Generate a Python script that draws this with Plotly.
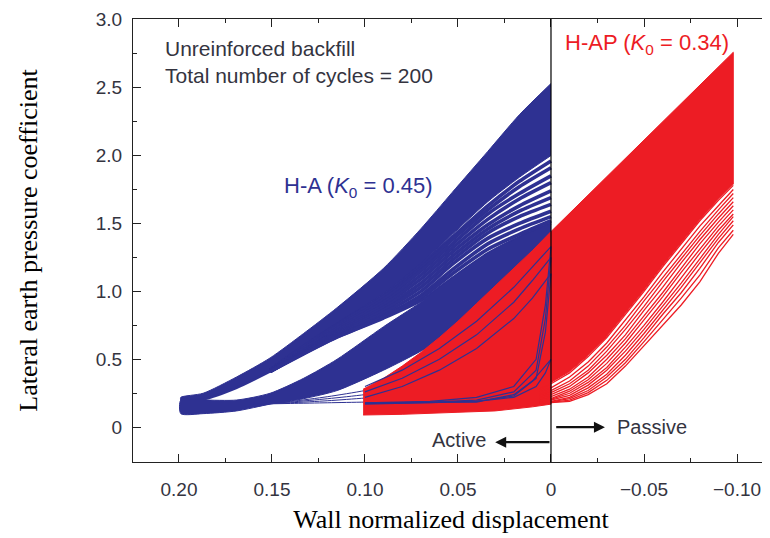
import plotly.graph_objects as go

BLUE = "#2e3192"
RED = "#ed1c24"
TXT = "#34343f"

# ---------------- H-A (blue) data ----------------
ha_x = [0.0, 0.017, 0.034, 0.053, 0.070, 0.090, 0.115, 0.133, 0.151, 0.169, 0.187, 0.199]
ha_top = [2.53, 2.30, 2.03, 1.73, 1.46, 1.17, 0.88, 0.69, 0.51, 0.37, 0.25, 0.22]      # upper envelope
ha_band_low = [2.00, 1.84, 1.66, 1.42, 1.20, 0.98, 0.76, 0.60, 0.42, 0.29, 0.205, 0.20]  # lower edge of upper band
ha_eye_top = [1.50, 1.40, 1.28, 1.10, 0.93, 0.80, 0.66, 0.54, 0.41, 0.29, 0.205, 0.20]
ha_eye_bot = [1.50, 1.40, 1.28, 1.10, 0.92, 0.74, 0.50, 0.36, 0.25, 0.20, 0.20, 0.20]
ha_mid_low = [1.20, 1.02, 0.86, 0.70, 0.56, 0.42, 0.27, 0.21, 0.17, 0.12, 0.10, 0.10]

# streak lines between upper band and eye
st_x = [0.0, 0.017, 0.034, 0.053, 0.070, 0.090, 0.115, 0.133, 0.151]
ha_streaks = [
    [1.96, 1.81, 1.63, 1.40, 1.19, 0.97, 0.755, 0.595, 0.42],
    [1.91, 1.77, 1.60, 1.38, 1.17, 0.96, 0.75, 0.59, 0.42],
    [1.85, 1.72, 1.57, 1.35, 1.15, 0.94, 0.74, 0.58, 0.415],
    [1.80, 1.68, 1.53, 1.32, 1.12, 0.92, 0.725, 0.575, 0.415],
    [1.74, 1.63, 1.49, 1.29, 1.09, 0.90, 0.71, 0.565, 0.415],
    [1.69, 1.59, 1.46, 1.26, 1.06, 0.88, 0.70, 0.56, 0.41],
    [1.64, 1.55, 1.43, 1.23, 1.03, 0.86, 0.69, 0.555, 0.41],
    [1.59, 1.50, 1.39, 1.20, 1.00, 0.84, 0.68, 0.55, 0.41],
    [1.55, 1.46, 1.35, 1.16, 0.97, 0.82, 0.67, 0.545, 0.41],
    [1.52, 1.42, 1.31, 1.13, 0.95, 0.81, 0.665, 0.54, 0.41],
]

# thin lines fanning out of the bottom branch
fan_x = [0.16, 0.14, 0.12, 0.10, 0.08, 0.06]
ha_fan = [
    [0.17, 0.175, 0.18, 0.185, 0.19, 0.20],
    [0.17, 0.18, 0.195, 0.215, 0.24, 0.27],
    [0.17, 0.185, 0.21, 0.24, 0.28, 0.33],
    [0.175, 0.19, 0.225, 0.27, 0.33, 0.40],
]

# early small loops drawn over the red cloud
loop_x = [0.10, 0.08, 0.06, 0.04, 0.02, 0.01, 0.0, 0.003, 0.008, 0.02, 0.04, 0.065, 0.10]
ha_loops = [
    [0.18, 0.18, 0.18, 0.185, 0.24, 0.34, 0.50, 0.40, 0.30, 0.22, 0.19, 0.18, 0.175],
    [0.22, 0.30, 0.42, 0.58, 0.80, 0.95, 1.13, 0.70, 0.36, 0.23, 0.19, 0.18, 0.17],
    [0.26, 0.36, 0.50, 0.68, 0.92, 1.08, 1.25, 0.80, 0.42, 0.26, 0.20, 0.185, 0.175],
    [0.30, 0.42, 0.58, 0.78, 1.03, 1.18, 1.33, 0.90, 0.50, 0.30, 0.22, 0.19, 0.18],
]

# ---------------- H-AP (red) data ----------------
hap_top_x = [0.101, 0.09, 0.08, 0.07, 0.06, 0.05, 0.04, 0.03, 0.02, 0.01, 0.0, -0.098]
hap_top = [0.28, 0.36, 0.45, 0.55, 0.66, 0.78, 0.91, 1.04, 1.17, 1.30, 1.44, 2.76]
hap_in_x = [-0.098, -0.09, -0.08, -0.07, -0.06, -0.05, -0.04, -0.03, -0.02, -0.01, 0.0]
hap_inner = [1.79, 1.68, 1.53, 1.36, 1.19, 1.01, 0.84, 0.67, 0.53, 0.41, 0.33]
hap_bot_x = [0.0, 0.01, 0.03, 0.05, 0.065, 0.08, 0.101]
hap_bot = [0.17, 0.15, 0.12, 0.11, 0.10, 0.095, 0.09]

pas_x = [0.006, 0.0, -0.01, -0.02, -0.03, -0.04, -0.05, -0.06, -0.07, -0.08, -0.09, -0.098]
hap_lines = [
    [0.175, 0.18, 0.19, 0.24, 0.32, 0.45, 0.60, 0.75, 0.90, 1.07, 1.28, 1.42],
    [0.18, 0.183, 0.20, 0.255, 0.345, 0.475, 0.63, 0.79, 0.95, 1.12, 1.32, 1.45],
    [0.18, 0.186, 0.21, 0.27, 0.37, 0.50, 0.66, 0.83, 0.99, 1.17, 1.36, 1.49],
    [0.185, 0.19, 0.22, 0.29, 0.39, 0.53, 0.69, 0.86, 1.03, 1.21, 1.39, 1.52],
    [0.19, 0.20, 0.235, 0.31, 0.42, 0.56, 0.72, 0.89, 1.06, 1.24, 1.42, 1.55],
    [0.195, 0.205, 0.25, 0.33, 0.44, 0.59, 0.75, 0.92, 1.10, 1.28, 1.45, 1.57],
    [0.20, 0.21, 0.265, 0.35, 0.47, 0.62, 0.79, 0.96, 1.14, 1.31, 1.48, 1.60],
    [0.21, 0.225, 0.28, 0.37, 0.50, 0.65, 0.82, 0.99, 1.17, 1.35, 1.51, 1.63],
    [0.22, 0.24, 0.30, 0.40, 0.53, 0.68, 0.86, 1.03, 1.21, 1.38, 1.54, 1.66],
    [0.23, 0.255, 0.32, 0.42, 0.56, 0.72, 0.89, 1.07, 1.24, 1.41, 1.57, 1.69],
    [0.24, 0.27, 0.34, 0.45, 0.59, 0.75, 0.93, 1.10, 1.27, 1.44, 1.60, 1.72],
    [0.26, 0.29, 0.37, 0.48, 0.62, 0.79, 0.96, 1.14, 1.31, 1.48, 1.63, 1.75],
    [0.28, 0.32, 0.40, 0.52, 0.66, 0.83, 1.00, 1.18, 1.35, 1.52, 1.67, 1.78],
]

x_ticks = [0.20, 0.15, 0.10, 0.05, 0.0, -0.05, -0.10]
x_labels = ["0.20", "0.15", "0.10", "0.05", "0", "\u22120.05", "\u22120.10"]
y_ticks = [0, 0.5, 1.0, 1.5, 2.0, 2.5, 3.0]
y_labels = ["0", "0.5", "1.0", "1.5", "2.0", "2.5", "3.0"]

fig = go.Figure()
SM = 0.7

def band(xs, top, bot, color, name):
    fig.add_trace(go.Scatter(x=list(xs) + list(xs)[::-1], y=list(top) + list(bot)[::-1],
                             fill="toself", fillcolor=color, mode="lines",
                             line=dict(color=color, width=1, shape="spline", smoothing=SM),
                             hoverinfo="skip", showlegend=False, name=name))

def line(xs, ys, color, w, name, shape="spline"):
    fig.add_trace(go.Scatter(x=xs, y=ys, mode="lines",
                             line=dict(color=color, width=w, shape=shape, smoothing=SM),
                             hoverinfo="skip", showlegend=False, name=name))

# blue
band(ha_x, ha_top, ha_band_low, BLUE, "H-A upper")
for s in ha_streaks:
    line(st_x[:len(s)], s, BLUE, 3.6, "H-A streak")
line(ha_x, ha_eye_top, BLUE, 2.4, "H-A eye edge")
band(ha_x, ha_eye_bot, ha_mid_low, BLUE, "H-A lower")
for f in ha_fan:
    line(fan_x, f, BLUE, 1.0, "H-A fan")

# red
rx = hap_top_x + hap_in_x + hap_bot_x
ry = hap_top + hap_inner + hap_bot
fig.add_trace(go.Scatter(x=rx, y=ry, fill="toself", fillcolor=RED, mode="lines",
                         line=dict(color=RED, width=1), hoverinfo="skip", showlegend=False))
for l in hap_lines:
    line(pas_x, l, RED, 1.3, "H-AP cycle", shape="linear")

for l in ha_loops:
    line(loop_x, l, BLUE, 1.2, "H-A early cycle", shape="linear")

fig.add_shape(type="line", x0=0, x1=0, y0=-0.256, y1=3.005, xref="x", yref="y",
              line=dict(color="black", width=1.2))

ann_font = dict(family="Liberation Sans, Arial, sans-serif", size=21, color=TXT)
fig.add_annotation(x=0.2086, y=2.79, xref="x", yref="y", text="Unreinforced backfill",
                   showarrow=False, xanchor="left", yanchor="middle", font=ann_font)
fig.add_annotation(x=0.2086, y=2.59, xref="x", yref="y", text="Total number of cycles = 200",
                   showarrow=False, xanchor="left", yanchor="middle", font=ann_font)
fig.add_annotation(x=0.1446, y=1.77, xref="x", yref="y", text="H-A (<i>K</i><sub>0</sub> = 0.45)",
                   showarrow=False, xanchor="left", yanchor="middle",
                   font=dict(family="Liberation Sans, Arial, sans-serif", size=22, color=BLUE))
fig.add_annotation(x=-0.0065, y=2.82, xref="x", yref="y", text="H-AP (<i>K</i><sub>0</sub> = 0.34)",
                   showarrow=False, xanchor="left", yanchor="middle",
                   font=dict(family="Liberation Sans, Arial, sans-serif", size=22, color=RED))
act_font = dict(family="Liberation Sans, Arial, sans-serif", size=20, color=TXT)
fig.add_annotation(x=0.0338, y=-0.095, xref="x", yref="y", text="Active",
                   showarrow=False, xanchor="right", yanchor="middle", font=act_font)
fig.add_annotation(x=-0.0344, y=0.00, xref="x", yref="y", text="Passive",
                   showarrow=False, xanchor="left", yanchor="middle", font=act_font)
fig.add_annotation(x=0.030, y=-0.11, ax=0.0, ay=-0.11, xref="x", yref="y", axref="x", ayref="y",
                   text="", showarrow=True, arrowhead=2, arrowsize=1, arrowwidth=2.2, arrowcolor="#111")
fig.add_annotation(x=-0.029, y=0.00, ax=-0.002, ay=0.00, xref="x", yref="y", axref="x", ayref="y",
                   text="", showarrow=True, arrowhead=2, arrowsize=1, arrowwidth=2.2, arrowcolor="#111")

tick_font = dict(family="Liberation Sans, Arial, sans-serif", size=19, color=TXT)
title_font = dict(family="Liberation Serif, Times New Roman, serif", size=26, color="black")

# page body has an 8 px margin, so the figure is 762x530 placed at (8, 8)
fig.update_layout(
    width=762, height=530, margin=dict(l=125, r=1, t=8, b=76),
    paper_bgcolor="white", plot_bgcolor="white",
    xaxis=dict(range=[0.2247, -0.1172], tickvals=x_ticks, ticktext=x_labels,
               ticks="inside", ticklen=8, tickwidth=1, tickcolor="#222",
               showline=True, linecolor="#222", linewidth=1.2, mirror="ticks",
               showgrid=False, zeroline=False, tickfont=tick_font, ticklabelstandoff=10,
               ticklabeloverflow="allow",
               minor=dict(tickvals=[0.225, 0.175, 0.125, 0.075, 0.025, -0.025, -0.075],
                          ticks="inside", ticklen=4, tickcolor="#222", showgrid=False),
               title=dict(text="Wall normalized displacement", font=title_font, standoff=10)),
    yaxis=dict(range=[-0.256, 3.005], tickvals=y_ticks, ticktext=y_labels,
               ticks="inside", ticklen=8, tickwidth=1, tickcolor="#222",
               showline=True, linecolor="#222", linewidth=1.2, mirror=False,
               showgrid=False, zeroline=False, tickfont=tick_font, ticklabelstandoff=6,
               ticklabeloverflow="allow",
               minor=dict(tickvals=[-0.25, 0.25, 0.75, 1.25, 1.75, 2.25, 2.75],
                          ticks="inside", ticklen=4, tickcolor="#222", showgrid=False),
               title=dict(text="Lateral earth pressure coefficient", font=title_font, standoff=50)),
)

fig.write_html("out.html")
